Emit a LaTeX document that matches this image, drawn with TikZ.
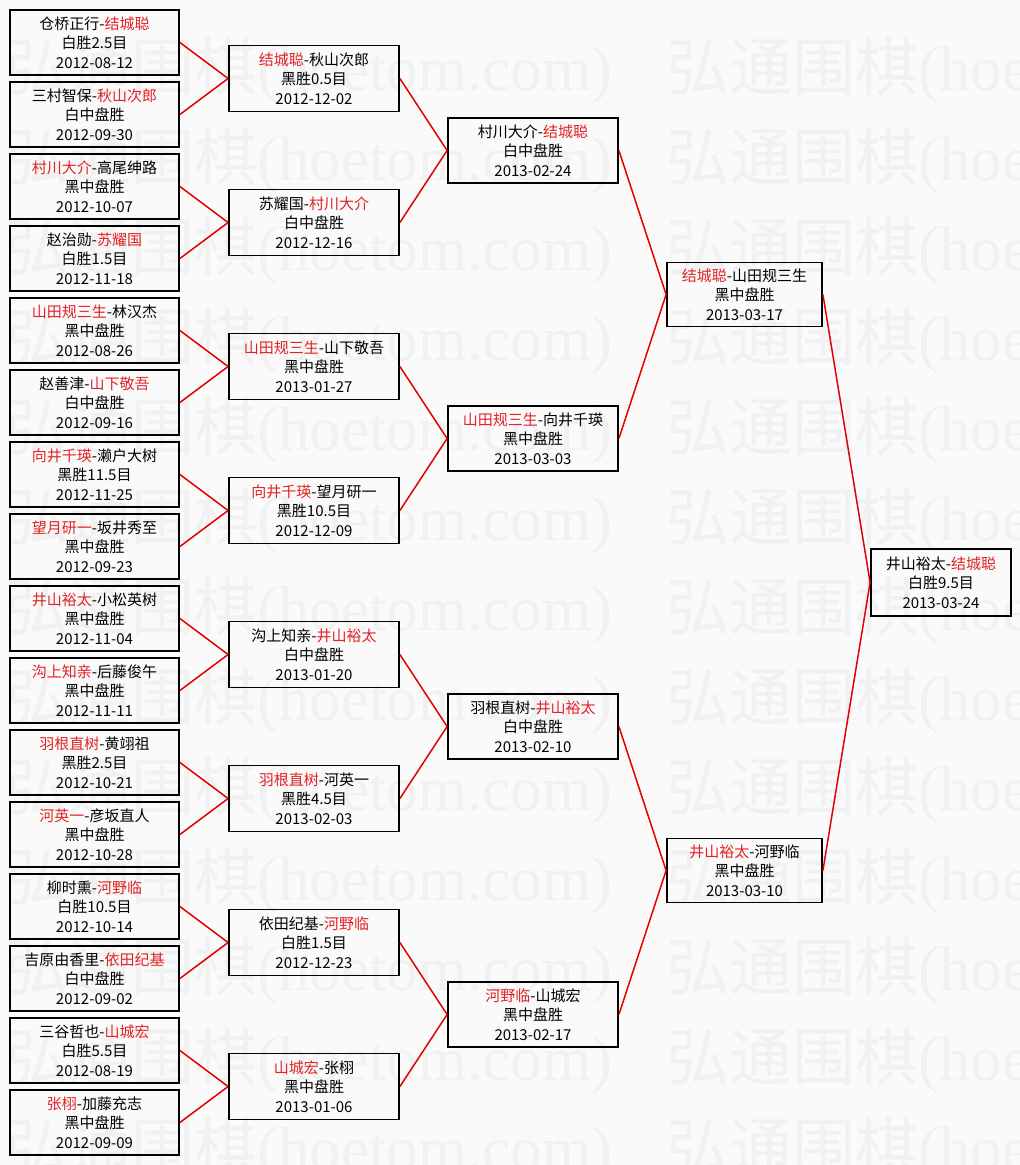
\documentclass[tikz,border=0pt]{standalone}
\usepackage{fontspec}
\setmainfont{Noto Sans CJK SC}
\newfontfamily\wmlatin{Liberation Serif}
\definecolor{winred}{RGB}{226,34,38}
\definecolor{linkred}{RGB}{228,0,0}
\definecolor{paper}{RGB}{250,250,250}
\definecolor{wmgray}{RGB}{241,241,241}
\newcommand{\win}[1]{\textcolor{winred}{#1}} % winner in red
\tikzset{
  game/.style={draw=black, line width=1.8pt, minimum height=65pt, inner sep=0pt,
    align=center, font=\fontsize{15}{19.5}\selectfont},
  round1/.style={game, minimum width=169pt},
  round2/.style={game, minimum width=170pt, minimum height=66pt},
  round3/.style={game, minimum width=170pt},
  round4/.style={game, minimum width=155pt, minimum height=64pt},
  round5/.style={game, minimum width=140pt, minimum height=67pt},
  link/.style={draw=linkred, line width=1.5pt},
  wmark/.style={anchor=base west, inner sep=0pt, text=wmgray, font=\fontsize{63}{63}\selectfont},
}
\begin{document}
\begin{tikzpicture}[x=1pt, y=-1pt]
  \useasboundingbox (0,0) rectangle (1020,1165);
  \fill[paper] (0,0) rectangle (1020,1165); % background
  % watermark
  \begin{scope}
    \clip (0,0) rectangle (1020,1165);
    \foreach \k in {0,...,12} {
      \node[wmark] at (5, {90+90*\k}) {弘通围棋{\wmlatin (hoetom.com)}};
      \node[wmark] at (666, {90+90*\k}) {弘通围棋{\wmlatin (hoetom.com)}};
    }
  \end{scope}

  % round 1
  \node[round1] (a1) at (94.5,42.5) {仓桥正行-\win{结城聪}\\白胜2.5目\\2012-08-12};
  \node[round1] (a2) at (94.5,114.5) {三村智保-\win{秋山次郎}\\白中盘胜\\2012-09-30};
  \node[round1] (a3) at (94.5,186.5) {\win{村川大介}-高尾绅路\\黑中盘胜\\2012-10-07};
  \node[round1] (a4) at (94.5,258.5) {赵治勋-\win{苏耀国}\\白胜1.5目\\2012-11-18};
  \node[round1] (a5) at (94.5,330.5) {\win{山田规三生}-林汉杰\\黑中盘胜\\2012-08-26};
  \node[round1] (a6) at (94.5,402.5) {赵善津-\win{山下敬吾}\\白中盘胜\\2012-09-16};
  \node[round1] (a7) at (94.5,474.5) {\win{向井千瑛}-濑户大树\\黑胜11.5目\\2012-11-25};
  \node[round1] (a8) at (94.5,546.5) {\win{望月研一}-坂井秀至\\黑中盘胜\\2012-09-23};
  \node[round1] (a9) at (94.5,618.5) {\win{井山裕太}-小松英树\\黑中盘胜\\2012-11-04};
  \node[round1] (a10) at (94.5,690.5) {\win{沟上知亲}-后藤俊午\\黑中盘胜\\2012-11-11};
  \node[round1] (a11) at (94.5,762.5) {\win{羽根直树}-黄翊祖\\黑胜2.5目\\2012-10-21};
  \node[round1] (a12) at (94.5,834.5) {\win{河英一}-彦坂直人\\黑中盘胜\\2012-10-28};
  \node[round1] (a13) at (94.5,906.5) {柳时熏-\win{河野临}\\白胜10.5目\\2012-10-14};
  \node[round1] (a14) at (94.5,978.5) {吉原由香里-\win{依田纪基}\\白中盘胜\\2012-09-02};
  \node[round1] (a15) at (94.5,1050.5) {三谷哲也-\win{山城宏}\\白胜5.5目\\2012-08-19};
  \node[round1] (a16) at (94.5,1122.5) {\win{张栩}-加藤充志\\黑中盘胜\\2012-09-09};

  % round 2
  \node[round2] (b1) at (314,78.5) {\win{结城聪}-秋山次郎\\黑胜0.5目\\2012-12-02};
  \node[round2] (b2) at (314,222.5) {苏耀国-\win{村川大介}\\白中盘胜\\2012-12-16};
  \node[round2] (b3) at (314,366.5) {\win{山田规三生}-山下敬吾\\黑中盘胜\\2013-01-27};
  \node[round2] (b4) at (314,510.5) {\win{向井千瑛}-望月研一\\黑胜10.5目\\2012-12-09};
  \node[round2] (b5) at (314,654.5) {沟上知亲-\win{井山裕太}\\白中盘胜\\2013-01-20};
  \node[round2] (b6) at (314,798.5) {\win{羽根直树}-河英一\\黑胜4.5目\\2013-02-03};
  \node[round2] (b7) at (314,942.5) {依田纪基-\win{河野临}\\白胜1.5目\\2012-12-23};
  \node[round2] (b8) at (314,1086.5) {\win{山城宏}-张栩\\黑中盘胜\\2013-01-06};

  % round 3
  \node[round3] (c1) at (533,150.5) {村川大介-\win{结城聪}\\白中盘胜\\2013-02-24};
  \node[round3] (c2) at (533,438.5) {\win{山田规三生}-向井千瑛\\黑中盘胜\\2013-03-03};
  \node[round3] (c3) at (533,726.5) {羽根直树-\win{井山裕太}\\白中盘胜\\2013-02-10};
  \node[round3] (c4) at (533,1014.5) {\win{河野临}-山城宏\\黑中盘胜\\2013-02-17};

  % semi-finals and final
  \node[round4] (d1) at (744.5,294.5) {\win{结城聪}-山田规三生\\黑中盘胜\\2013-03-17};
  \node[round4] (d2) at (744.5,870.5) {\win{井山裕太}-河野临\\黑中盘胜\\2013-03-10};
  \node[round5] (final) at (941,582.5) {井山裕太-\win{结城聪}\\白胜9.5目\\2013-03-24};

  % links
  \draw[link] (a1.east) -- (b1.west);
  \draw[link] (a2.east) -- (b1.west);
  \draw[link] (a3.east) -- (b2.west);
  \draw[link] (a4.east) -- (b2.west);
  \draw[link] (a5.east) -- (b3.west);
  \draw[link] (a6.east) -- (b3.west);
  \draw[link] (a7.east) -- (b4.west);
  \draw[link] (a8.east) -- (b4.west);
  \draw[link] (a9.east) -- (b5.west);
  \draw[link] (a10.east) -- (b5.west);
  \draw[link] (a11.east) -- (b6.west);
  \draw[link] (a12.east) -- (b6.west);
  \draw[link] (a13.east) -- (b7.west);
  \draw[link] (a14.east) -- (b7.west);
  \draw[link] (a15.east) -- (b8.west);
  \draw[link] (a16.east) -- (b8.west);
  \draw[link] (b1.east) -- (c1.west);
  \draw[link] (b2.east) -- (c1.west);
  \draw[link] (b3.east) -- (c2.west);
  \draw[link] (b4.east) -- (c2.west);
  \draw[link] (b5.east) -- (c3.west);
  \draw[link] (b6.east) -- (c3.west);
  \draw[link] (b7.east) -- (c4.west);
  \draw[link] (b8.east) -- (c4.west);
  \draw[link] (c1.east) -- (d1.west);
  \draw[link] (c2.east) -- (d1.west);
  \draw[link] (c3.east) -- (d2.west);
  \draw[link] (c4.east) -- (d2.west);
  \draw[link] (d1.east) -- (final.west);
  \draw[link] (d2.east) -- (final.west);
\end{tikzpicture}
\end{document}
